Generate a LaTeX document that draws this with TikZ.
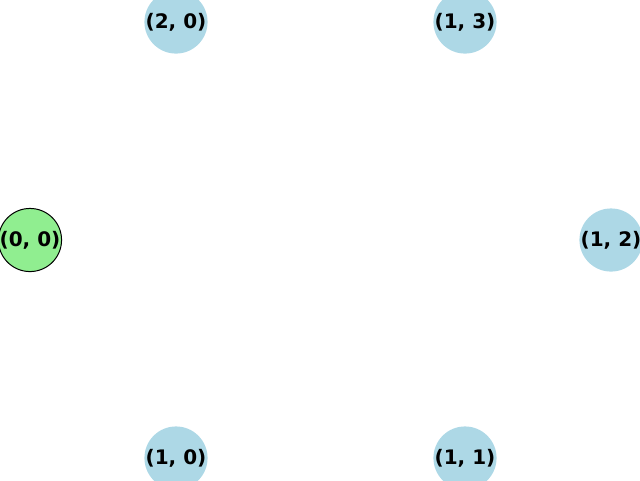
\documentclass[tikz,border=0pt]{standalone}
\usepackage{fontspec}
\setmainfont{DejaVu Sans}
\definecolor{lgreen}{HTML}{90EE90}
\definecolor{lblue}{HTML}{ADD8E6}
\tikzset{
  vtx/.style={circle, minimum size=47pt, inner sep=0pt, font=\fontsize{15}{18}\selectfont\bfseries},
  bluev/.style={vtx, fill=lblue},
  greenv/.style={vtx, fill=lgreen, draw=black, line width=0.75pt}
}
\begin{document}
\begin{tikzpicture}[x=0.75pt,y=-0.75pt]
\useasboundingbox (0,0) rectangle (640,480);
\node[greenv] (n00) at (30,240) {(0, 0)};
\node[bluev] (n20) at (176,22) {(2, 0)};
\node[bluev] (n13) at (465,22) {(1, 3)};
\node[bluev] (n12) at (611,240) {(1, 2)};
\node[bluev] (n10) at (176,458) {(1, 0)};
\node[bluev] (n11) at (465,458) {(1, 1)};
\end{tikzpicture}
\end{document}
